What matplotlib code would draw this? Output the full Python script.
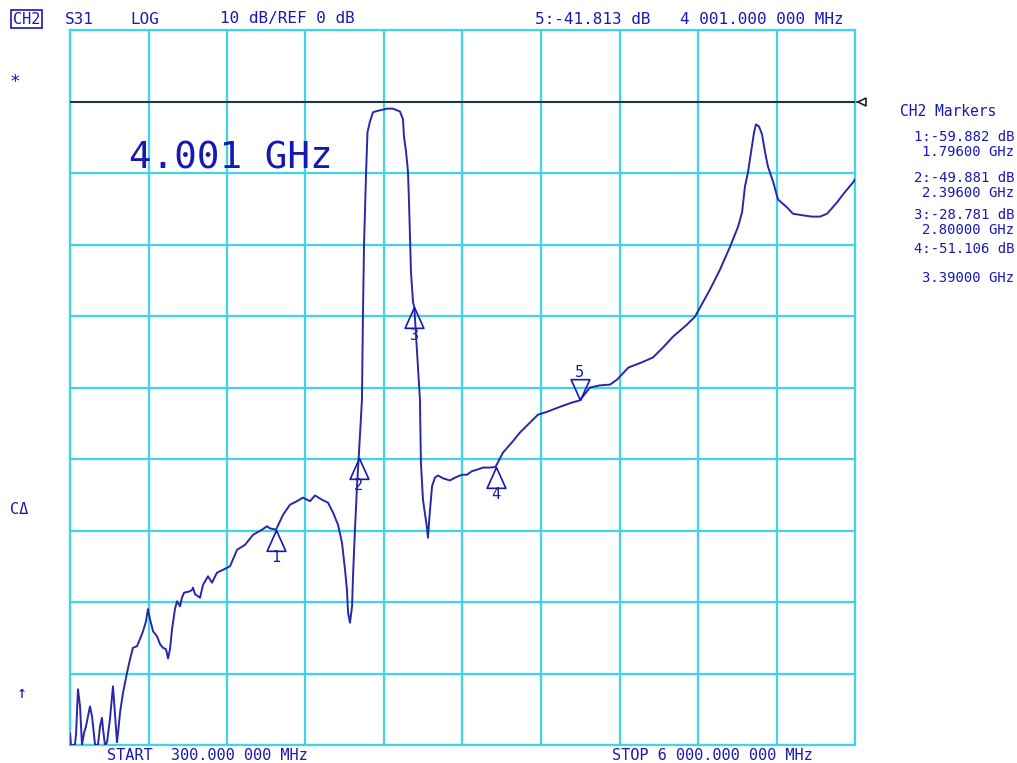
import numpy as np
import matplotlib
matplotlib.use('Agg')
import matplotlib.pyplot as plt
from matplotlib.path import Path
from matplotlib.transforms import blended_transform_factory

# trace S31 (MHz, dB)
freq_mhz = [300, 307, 336, 344, 358, 373, 387, 402, 416, 445, 460, 482, 496, 503,
            518, 532, 540, 554, 569, 590, 612, 619, 641, 649, 663, 685, 714, 736,
            757, 786, 808, 830, 852, 866, 881, 903, 932, 954, 975, 997, 1012, 1026,
            1041, 1062, 1077, 1099, 1113, 1128, 1171, 1186, 1193, 1208, 1244, 1266,
            1302, 1331, 1367, 1411, 1462, 1513, 1571, 1629, 1694, 1730, 1752, 1796,
            1847, 1897, 1948, 1992, 2043, 2079, 2130, 2173, 2210, 2246, 2275, 2297,
            2311, 2319, 2333, 2348, 2355, 2369, 2384, 2391, 2396, 2420, 2427, 2435,
            2450, 2460, 2478, 2500, 2536, 2602, 2645, 2696, 2718, 2725, 2740, 2754,
            2761, 2769, 2776, 2791, 2800, 2841, 2848, 2863, 2892, 2899, 2914, 2929,
            2950, 2972, 3008, 3059, 3096, 3146, 3183, 3219, 3255, 3299, 3350, 3390,
            3444, 3517, 3567, 3640, 3698, 3764, 3858, 3945, 4001, 4076, 4148, 4221,
            4272, 4355, 4450, 4533, 4606, 4678, 4780, 4838, 4875, 4947, 5020, 5093,
            5151, 5180, 5201, 5223, 5245, 5267, 5281, 5303, 5325, 5347, 5368, 5405,
            5441, 5506, 5550, 5615, 5688, 5746, 5797, 5870, 5913, 5986, 6000]
s31_db = [-88.4, -90, -90, -88.4, -82.2, -84.6, -90, -88.3, -87.4, -84.6, -86.0, -90, -90, -90,
          -87.4, -86.2, -87.8, -90, -89.6, -86.4, -81.8, -83.6, -89.6, -88.3, -85.5, -82.7, -79.9, -78.0,
          -76.4, -76.2, -75.2, -74.1, -72.7, -71.0, -72.4, -74.1, -74.8, -75.9, -76.4, -76.6, -77.9, -76.6,
          -73.8, -71.0, -69.9, -70.6, -69.4, -68.7, -68.5, -68.3, -68.0, -68.9, -69.4, -67.6,
          -66.4, -67.3, -65.9, -65.5, -65.0, -62.7, -62.0, -60.6, -59.9, -59.4, -59.7, -59.882,
          -57.8, -56.4, -55.9, -55.4, -55.9, -55.1, -55.7, -56.1, -57.5, -59.2, -61.7, -65.5,
          -68.3, -71.5, -72.9, -70.6, -66.4, -59.9, -53.8, -51.5, -49.881, -41.7, -30.1, -20.0,
          -9.9, -4.3, -2.8, -1.5, -1.3, -1.0, -1.0, -1.4, -2.5, -4.9, -7.0, -9.8,
          -13.7, -18.9, -23.9, -28.1, -28.781, -41.7, -50.5, -55.7, -59.6, -61.0, -57.1, -53.8,
          -52.6, -52.3, -52.7, -53.0, -52.6, -52.2, -52.2, -51.7, -51.5, -51.2, -51.2, -51.106,
          -49.1, -47.5, -46.3, -44.9, -43.8, -43.4, -42.7, -42.1, -41.813, -40.0, -39.7, -39.6,
          -38.9, -37.2, -36.5, -35.8, -34.4, -32.9, -31.2, -30.1, -28.8, -26.3, -23.5, -20.3,
          -17.5, -15.5, -11.9, -9.9, -7.1, -4.3, -3.2, -3.5, -4.6, -7.1, -9.1, -11.2,
          -13.7, -14.8, -15.7, -15.9, -16.1, -16.1, -15.7, -14.1, -13.0, -11.3, -10.9]

marker_ids = ['1', '2', '3', '4', '5']
marker_freq = [1796, 2396, 2800, 3390, 4001]
marker_db = [-59.882, -49.881, -28.781, -51.106, -41.813]
marker_lines = [('1:-59.882 dB', '1.79600 GHz'), ('2:-49.881 dB', '2.39600 GHz'),
                ('3:-28.781 dB', '2.80000 GHz'), ('4:-51.106 dB', '3.39000 GHz')]

start_mhz, stop_mhz = 300, 6000
ref_db, db_per_div = 0, 10

BLUE = '#1818B4'
TRACE = '#2828A8'
GRID = '#3ED6E6'
W, H = 1017, 763
plt.rcParams['font.family'] = ['DejaVu Sans Mono', 'DejaVu Sans']

fig = plt.figure(figsize=(W / 100, H / 100), dpi=100)
fig.patch.set_facecolor('white')


def fx(x):
    return x / W


def fy(y):
    return 1 - y / H


ax = fig.add_axes([fx(70), fy(745), fx(855) - fx(70), fy(30) - fy(745)])
ax.set_xlim(start_mhz, stop_mhz)
ax.set_ylim(ref_db - 9 * db_per_div, ref_db + db_per_div)
ax.set_xticks(np.linspace(start_mhz, stop_mhz, 11))
ax.set_yticks(np.arange(ref_db - 9 * db_per_div, ref_db + db_per_div + 1, db_per_div))
ax.grid(True, color=GRID, linewidth=1.6)
ax.tick_params(length=0, labelbottom=False, labelleft=False)
for sp in ax.spines.values():
    sp.set_color(GRID)
    sp.set_linewidth(1.6)

# reference line
ax.axhline(ref_db, color='#222222', linewidth=1.3, zorder=3)
tr = blended_transform_factory(ax.transAxes, ax.transData)
ax.plot([1.0, 1.006], [ref_db, ref_db], color='#222222', lw=1.2, transform=tr, clip_on=False)
ax.plot([1.009], [ref_db], marker='<', ms=6, mfc='white', mec='#222222', mew=1.2,
        transform=tr, clip_on=False)

ax.plot(freq_mhz, s31_db, color=TRACE, linewidth=1.4, zorder=4)

# marker triangles, apex on the trace
up = Path([(0, 0), (-0.45, -1), (0.45, -1), (0, 0)])
down = Path([(0, 0), (-0.45, 1), (0.45, 1), (0, 0)])
for mid, f, d in zip(marker_ids, marker_freq, marker_db):
    if mid == '5':
        ax.plot([f], [d], marker=down, ms=30, mfc='none', mec=BLUE, mew=1.2, zorder=5)
        ax.annotate(mid, (f, d), xytext=(0, 20), textcoords='offset points',
                    ha='center', va='center', color=BLUE, fontsize=11)
    else:
        ax.plot([f], [d], marker=up, ms=30, mfc='none', mec=BLUE, mew=1.2, zorder=5)
        ax.annotate(mid, (f, d), xytext=(0, -20), textcoords='offset points',
                    ha='center', va='center', color=BLUE, fontsize=11)

ax.text(0.075, 0.82, '4.001 GHz', transform=ax.transAxes, color=BLUE,
        fontsize=27, ha='left', va='center')

# header
fig.text(fx(13), fy(19), 'CH2', color=BLUE, fontsize=11, ha='left', va='center',
         bbox=dict(boxstyle='square,pad=0.1', fc='white', ec=BLUE, lw=1.2))
fig.text(fx(65), fy(19), 'S31', color=BLUE, fontsize=11.5, ha='left', va='center')
fig.text(fx(130), fy(19), 'LOG', color=BLUE, fontsize=11.5, ha='left', va='center')
fig.text(fx(220), fy(19), '10 dB/REF 0 dB', color=BLUE, fontsize=11.5, ha='left', va='center')
fig.text(fx(535), fy(19), '5:-41.813 dB', color=BLUE, fontsize=11.5, ha='left', va='center')
fig.text(fx(680), fy(19), '4 001.000 000 MHz', color=BLUE, fontsize=11.5, ha='left', va='center')

# left symbols
fig.text(fx(15), fy(82), '*', color=BLUE, fontsize=13, ha='center', va='center')
fig.text(fx(10), fy(510), 'C\u0394', color=BLUE, fontsize=11, ha='left', va='center')
fig.text(fx(22), fy(693), '\u2191', color=BLUE, fontsize=12, ha='center', va='center')

# bottom
fig.text(fx(107), fy(755), 'START  300.000 000 MHz', color=BLUE, fontsize=11, ha='left', va='center')
fig.text(fx(612), fy(755), 'STOP 6 000.000 000 MHz', color=BLUE, fontsize=11, ha='left', va='center')

# marker table
fig.text(fx(900), fy(112), 'CH2 Markers', color=BLUE, fontsize=10.5, ha='left', va='center')
rows = [(137, 152), (178, 193), (215, 230), (249, 278)]
for (l1, l2), (y1, y2) in zip(marker_lines, rows):
    fig.text(fx(1014), fy(y1), l1, color=BLUE, fontsize=10, ha='right', va='center')
    fig.text(fx(1014), fy(y2), l2, color=BLUE, fontsize=10, ha='right', va='center')

fig.savefig('out.png', dpi=100)
